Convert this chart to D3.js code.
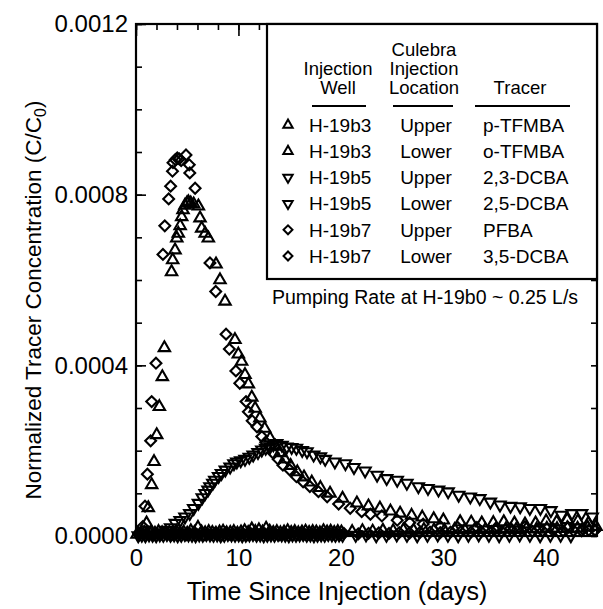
<!DOCTYPE html>
<html><head><meta charset="utf-8">
<script src="https://cdn.jsdelivr.net/npm/d3@7"></script>
<style>
body{margin:0;background:#fff}
text{font-family:"Liberation Sans",Arial,Helvetica,sans-serif;fill:#000}
</style>
</head><body>
<svg id="c" width="603" height="609"></svg>
<script>
// ---------------- DATA ----------------
const xTickValues = [0, 10, 20, 30, 40];
const xTickLabels = ["0", "10", "20", "30", "40"];
const yTickValues = [0, 0.0004, 0.0008, 0.0012];
const yTickLabels = ["0.0000", "0.0004", "0.0008", "0.0012"];

// H-19b3 Upper (p-TFMBA), triangles
const b3UpperT = [1.03,1.2,1.53,1.76,2.02,2.28,2.57,2.77,3.47,3.58,3.81,3.98,4.13,4.31,4.46,4.59,4.78,4.97,5.11,5.34,5.63,6.09,6.25,6.41,6.75,7.06,7.81,8.2,8.69,9.66,9.99,10.31,10.64,10.97,11.3,11.63,12.09,12.56,13.09,13.6,14.06,14.53,15.09,15.75,16.4,17.16,18.0,18.94,20.16,21.56,22.69,23.81,24.84,25.78,26.9,27.94,29.06,30.0,31.64,32.72,33.75,34.88,35.9,36.94,37.97,39.0,40.03,41.06,42.09,43.13,44.16];
const b3UpperC = [0.00003,0.000066,0.00012,0.000174,0.000237,0.000303,0.000373,0.000441,0.000619,0.000647,0.00067,0.000698,0.000709,0.000727,0.000748,0.000764,0.000775,0.00078,0.000783,0.00078,0.000778,0.000773,0.000745,0.000721,0.000709,0.000698,0.000637,0.0006,0.00055,0.00046,0.000426,0.000409,0.000378,0.000356,0.000325,0.000299,0.000276,0.000252,0.000229,0.00021,0.000195,0.00018,0.000165,0.00015,0.000138,0.000126,0.000113,0.0001,0.000088,0.000077,0.00007,0.000065,0.000058,0.000053,0.000048,0.000044,0.00004,0.000037,0.000033,0.000032,0.00003,0.000031,0.000033,0.00003,0.000028,0.00003,0.000035,0.000033,0.000038,0.000035,0.00003];

// H-19b5 Upper (2,3-DCBA), inverted triangles
const b5UpperT = [3.0,3.38,3.84,4.31,4.78,5.25,5.63,6.09,6.47,6.75,7.03,7.22,7.5,7.69,8.06,8.34,8.72,9.19,9.56,9.84,10.22,10.64,11.06,11.44,11.91,12.28,12.66,13.09,13.41,13.73,14.25,14.72,15.19,15.66,16.22,16.69,17.34,18.0,18.47,19.41,20.44,21.28,22.36,23.53,24.47,25.5,26.44,27.56,28.5,29.53,30.47,31.5,32.63,33.56,34.59,35.53,36.56,37.5,38.44,39.47,40.5,41.53,42.56,43.5,44.53];
const b5UpperC = [0.000014,0.00002,0.00003,0.000037,0.000045,0.000053,0.000065,0.000077,0.00009,0.0001,0.000108,0.000116,0.000124,0.000131,0.00014,0.000147,0.000155,0.000162,0.00017,0.000174,0.000177,0.00018,0.000185,0.00019,0.000196,0.000202,0.000206,0.000209,0.000214,0.000217,0.000213,0.000209,0.000208,0.000206,0.000201,0.000198,0.00019,0.000186,0.00018,0.000174,0.00017,0.000161,0.000153,0.000143,0.000135,0.000131,0.000124,0.000116,0.000112,0.000108,0.000104,0.000096,0.000092,0.000088,0.00008,0.000073,0.00007,0.000069,0.000065,0.000065,0.00006,0.000049,0.000053,0.000053,0.000045];

// H-19b7 Upper (PFBA), diamonds
const b7UpperT = [0.28,0.66,0.88,1.11,1.43,1.53,1.95,2.63,2.81,3.19,3.38,3.56,3.61,3.84,4.03,4.22,4.41,4.88,5.2,5.25,5.77,7.22,7.78,8.79,9.11,9.75,10.13,10.74,10.97,11.34,11.81,12.28,12.66,13.03,13.41,13.88,14.34,15.0,15.66,16.31,16.97,17.81,18.66,19.78,20.91,22.03,22.88,24.0,25.5,26.72,28.03,29.72,31.4,33.28,35.16,36.56,37.97,39.38,40.78,42.19,43.59,44.81];
const b7UpperC = [0.000005,0.000022,0.00007,0.000145,0.000223,0.000315,0.000405,0.00066,0.000727,0.00079,0.00082,0.000855,0.000875,0.000882,0.000886,0.000884,0.00088,0.000893,0.00087,0.000851,0.000815,0.00064,0.000573,0.000473,0.000438,0.000387,0.000358,0.000315,0.000291,0.00027,0.000256,0.000233,0.00022,0.000209,0.000194,0.00018,0.000166,0.000155,0.000139,0.000127,0.000116,0.000104,0.000092,0.000075,0.000065,0.000057,0.000051,0.000047,0.000037,0.000031,0.000028,0.000022,0.00002,0.00002,0.000019,0.000018,0.000022,0.000018,0.000016,0.00002,0.000017,0.000014];

// H-19b3 Lower (o-TFMBA), triangles
const b3LowerT = [0.1,0.45,0.8,1.15,1.5,1.85,2.2,2.55,2.9,3.25,3.6,3.95,4.3,4.65,5.0,5.35,5.7,6.05,6.4,6.75,7.1,7.45,7.8,8.15,8.5,8.85,9.2,9.55,9.9,10.25,10.6,10.95,11.3,11.65,12.0,12.35,12.7,13.05,13.4,13.75,14.1,14.45,14.8,15.15,15.5,15.85,16.2,16.55,16.9,17.25,17.6,17.95,18.3,18.65,19.0,19.35,19.7,20.05,21.1,22.1,23.1,24.1,25.1,26.1,27.1,28.1,29.1,30.1,31.1,32.1,33.1,34.1,35.1,36.1,37.1,38.1,39.1,40.1,41.1,42.1,43.1,44.1,44.9];
const b3LowerC = [4e-6,6e-6,8e-6,5e-6,9e-6,6e-6,10e-6,7e-6,5e-6,8e-6,6e-6,10e-6,7e-6,9e-6,6e-6,12e-6,8e-6,20e-6,9e-6,7e-6,10e-6,8e-6,6e-6,9e-6,11e-6,7e-6,8e-6,10e-6,6e-6,9e-6,12e-6,8e-6,16e-6,10e-6,14e-6,9e-6,18e-6,11e-6,8e-6,10e-6,7e-6,9e-6,12e-6,8e-6,10e-6,7e-6,9e-6,11e-6,8e-6,10e-6,9e-6,7e-6,12e-6,9e-6,11e-6,8e-6,10e-6,9e-6,10e-6,12e-6,11e-6,13e-6,12e-6,14e-6,13e-6,15e-6,14e-6,13e-6,15e-6,14e-6,16e-6,15e-6,14e-6,16e-6,15e-6,17e-6,16e-6,18e-6,17e-6,19e-6,18e-6,20e-6,22e-6];
// H-19b5 Lower (2,5-DCBA), inverted triangles
const b5LowerT = [0.22,0.57,0.92,1.27,1.62,1.97,2.32,2.67,3.02,3.37,3.72,4.07,4.42,4.77,5.12,5.47,5.82,6.17,6.52,6.87,7.22,7.57,7.92,8.27,8.62,8.97,9.32,9.67,10.02,10.37,10.72,11.07,11.42,11.77,12.12,12.47,12.82,13.17,13.52,13.87,14.22,14.57,14.92,15.27,15.62,15.97,16.32,16.67,17.02,17.37,17.72,18.07,18.42,18.77,19.12,19.47,19.82,20.17,21.45,22.45,23.45,24.45,25.45,26.45,27.45,28.45,29.45,30.45,31.45,32.45,33.45,34.45,35.45,36.45,37.45,38.45,39.45,40.45,41.45,42.45];
const b5LowerC = [1e-6,2e-6,1e-6,3e-6,2e-6,1e-6,3e-6,2e-6,4e-6,2e-6,3e-6,1e-6,2e-6,4e-6,3e-6,2e-6,1e-6,3e-6,2e-6,4e-6,3e-6,2e-6,3e-6,1e-6,2e-6,4e-6,3e-6,2e-6,3e-6,1e-6,2e-6,3e-6,4e-6,2e-6,3e-6,1e-6,2e-6,3e-6,2e-6,4e-6,3e-6,2e-6,1e-6,3e-6,2e-6,3e-6,4e-6,2e-6,3e-6,1e-6,2e-6,3e-6,2e-6,4e-6,3e-6,2e-6,3e-6,2e-6,2e-6,3e-6,1e-6,2e-6,3e-6,2e-6,1e-6,2e-6,3e-6,2e-6,1e-6,2e-6,3e-6,2e-6,1e-6,2e-6,3e-6,2e-6,1e-6,2e-6,2e-6,1e-6];
// H-19b7 Lower (3,5-DCBA), diamonds
const b7LowerT = [0.34,0.69,1.04,1.39,1.74,2.09,2.44,2.79,3.14,3.49,3.84,4.19,4.54,4.89,5.24,5.59,5.94,6.29,6.64,6.99,7.34,7.69,8.04,8.39,8.74,9.09,9.44,9.79,10.14,10.49,10.84,11.19,11.54,11.89,12.24,12.59,12.94,13.29,13.64,13.99,14.34,14.69,15.04,15.39,15.74,16.09,16.44,16.79,17.14,17.49,17.84,18.19,18.54,18.89,19.24,19.59,19.94,20.29,21.7,22.7,23.7,24.7,25.7,26.7,27.7,28.7,29.7,30.7,31.7,32.7,33.7,34.7,35.7,36.7,37.7,38.7,39.7,40.7,41.7,42.7,43.5,44.2,44.8];
const b7LowerC = [3e-6,5e-6,4e-6,6e-6,3e-6,5e-6,4e-6,7e-6,5e-6,3e-6,6e-6,4e-6,5e-6,3e-6,6e-6,5e-6,4e-6,6e-6,3e-6,5e-6,4e-6,6e-6,5e-6,3e-6,7e-6,4e-6,5e-6,6e-6,4e-6,5e-6,3e-6,6e-6,5e-6,4e-6,7e-6,5e-6,4e-6,6e-6,5e-6,3e-6,6e-6,4e-6,5e-6,7e-6,4e-6,6e-6,5e-6,4e-6,6e-6,5e-6,4e-6,6e-6,5e-6,7e-6,5e-6,6e-6,4e-6,6e-6,5e-6,6e-6,7e-6,6e-6,8e-6,7e-6,8e-6,9e-6,8e-6,9e-6,10e-6,9e-6,10e-6,11e-6,10e-6,11e-6,12e-6,11e-6,12e-6,13e-6,12e-6,13e-6,12e-6,14e-6,13e-6];

// Legend table
const legendSymbols = ["up", "up", "down", "down", "diamond", "diamond"];
const legendWells = ["H-19b3", "H-19b3", "H-19b5", "H-19b5", "H-19b7", "H-19b7"];
const legendLocations = ["Upper", "Lower", "Upper", "Lower", "Upper", "Lower"];
const legendTracers = ["p-TFMBA", "o-TFMBA", "2,3-DCBA", "2,5-DCBA", "PFBA", "3,5-DCBA"];

// ---------------- CHART ----------------
const svg = d3.select("#c");
const M = {l: 136, r: 597, t: 24, b: 536};
const x = d3.scaleLinear().domain([0, 45]).range([M.l, M.r]);
const y = d3.scaleLinear().domain([0, 0.0012]).range([M.b, M.t]);

function symPath(kind, s) {
  if (kind === "diamond") return d3.symbol().type(d3.symbolSquare).size(s * 1.05)();
  return d3.symbol().type(d3.symbolTriangle).size(s)();
}
function symTransform(kind) {
  return kind === "down" ? " rotate(180)" : kind === "diamond" ? " rotate(45)" : "";
}
function plotSeries(ts, cs, kind) {
  const pts = ts.map((t, i) => [t, cs[i]]).filter(d => d[1] != null);
  svg.append("g").selectAll("path").data(pts).join("path")
    .attr("d", symPath(kind, 56))
    .attr("transform", d => `translate(${x(d[0])},${y(d[1])})` + symTransform(kind))
    .attr("fill", "none").attr("stroke", "#000").attr("stroke-width", 2.1);
}

// axes (inward ticks)
const minorY = d3.range(0, 13).map(i => i * 0.0001);
const minorX = d3.range(0, 23).map(i => i * 2);
function styleAxis(g) {
  g.select(".domain").remove();
  g.selectAll("line").attr("stroke", "#000").attr("stroke-width", 1.6);
}
svg.append("g").attr("transform", `translate(${M.l},0)`)
  .call(d3.axisRight(y).tickValues(minorY).tickSize(6).tickFormat("")).call(styleAxis);
svg.append("g").attr("transform", `translate(${M.l},0)`)
  .call(d3.axisRight(y).tickValues(yTickValues).tickSize(10).tickFormat("")).call(styleAxis);
svg.append("g").attr("transform", `translate(${M.r},0)`)
  .call(d3.axisLeft(y).tickValues(minorY).tickSize(6).tickFormat("")).call(styleAxis);
svg.append("g").attr("transform", `translate(0,${M.t})`)
  .call(d3.axisBottom(x).tickValues(minorX).tickSize(6).tickFormat("")).call(styleAxis);
svg.append("g").attr("transform", `translate(0,${M.t})`)
  .call(d3.axisBottom(x).tickValues(xTickValues).tickSize(12).tickFormat("")).call(styleAxis);
svg.append("g").attr("transform", `translate(0,${M.b})`)
  .call(d3.axisTop(x).tickValues(minorX).tickSize(6).tickFormat("")).call(styleAxis);

// tick labels
const yl = svg.append("g").attr("transform", `translate(${M.l},0)`)
  .call(d3.axisLeft(y).tickValues(yTickValues).tickSize(0).tickPadding(8).tickFormat((d, i) => yTickLabels[i]));
yl.select(".domain").remove();
yl.selectAll("text").attr("font-size", 24).attr("font-family", null);
const xl = svg.append("g").attr("transform", `translate(0,${M.b})`)
  .call(d3.axisBottom(x).tickValues(xTickValues).tickSize(0).tickPadding(13).tickFormat((d, i) => xTickLabels[i]));
xl.select(".domain").remove();
xl.selectAll("text").attr("font-size", 24).attr("font-family", null);

// data
plotSeries(b5LowerT, b5LowerC, "down");
plotSeries(b7LowerT, b7LowerC, "diamond");
plotSeries(b3LowerT, b3LowerC, "up");
plotSeries(b5UpperT, b5UpperC, "down");
plotSeries(b3UpperT, b3UpperC, "up");
plotSeries(b7UpperT, b7UpperC, "diamond");

// frame
svg.append("rect").attr("x", M.l).attr("y", M.t).attr("width", M.r - M.l).attr("height", M.b - M.t)
  .attr("fill", "none").attr("stroke", "#000").attr("stroke-width", 2.2);

// legend box
const lg = svg.append("g");
lg.append("rect").attr("x", 267).attr("y", M.t).attr("width", M.r - 267).attr("height", 279 - M.t)
  .attr("fill", "#fff").attr("stroke", "#000").attr("stroke-width", 2.2);
const hdr = [
  {x: 338, lines: ["Injection", "Well"], u: [312, 366]},
  {x: 424, lines: ["Culebra", "Injection", "Location"], u: [393, 453]},
  {x: 520, lines: ["Tracer"], u: [475, 570]}
];
hdr.forEach(h => {
  const n = h.lines.length;
  h.lines.forEach((s, i) => {
    lg.append("text").attr("x", h.x).attr("y", 94 - (n - 1 - i) * 19)
      .attr("text-anchor", "middle").attr("font-size", 18.5).text(s);
  });
  lg.append("line").attr("x1", h.u[0]).attr("x2", h.u[1]).attr("y1", 106).attr("y2", 106)
    .attr("stroke", "#000").attr("stroke-width", 2);
});
legendWells.forEach((w, i) => {
  const cy = 125 + i * 26.2;
  lg.append("path").attr("d", symPath(legendSymbols[i], 38))
    .attr("transform", `translate(288,${cy})` + symTransform(legendSymbols[i]))
    .attr("fill", "none").attr("stroke", "#000").attr("stroke-width", 2);
  lg.append("text").attr("x", 309).attr("y", cy + 6.7).attr("font-size", 19).text(w);
  lg.append("text").attr("x", 426).attr("y", cy + 6.7).attr("text-anchor", "middle").attr("font-size", 19).text(legendLocations[i]);
  lg.append("text").attr("x", 483).attr("y", cy + 6.7).attr("font-size", 19).text(legendTracers[i]);
});
svg.append("text").attr("x", 425).attr("y", 304).attr("text-anchor", "middle").attr("font-size", 19.5)
  .text("Pumping Rate at H-19b0 ~ 0.25 L/s");

// axis titles
svg.append("text").attr("x", 337).attr("y", 600).attr("text-anchor", "middle")
  .attr("font-size", 25).text("Time Since Injection (days)");
const yt = svg.append("text").attr("transform", `translate(41,300) rotate(-90)`)
  .attr("text-anchor", "middle").attr("font-size", 22.5);
yt.append("tspan").text("Normalized Tracer Concentration (C/C");
yt.append("tspan").attr("font-size", 16).attr("dy", 5).text("0");
yt.append("tspan").attr("dy", -5).text(")");
</script>
</body></html>
